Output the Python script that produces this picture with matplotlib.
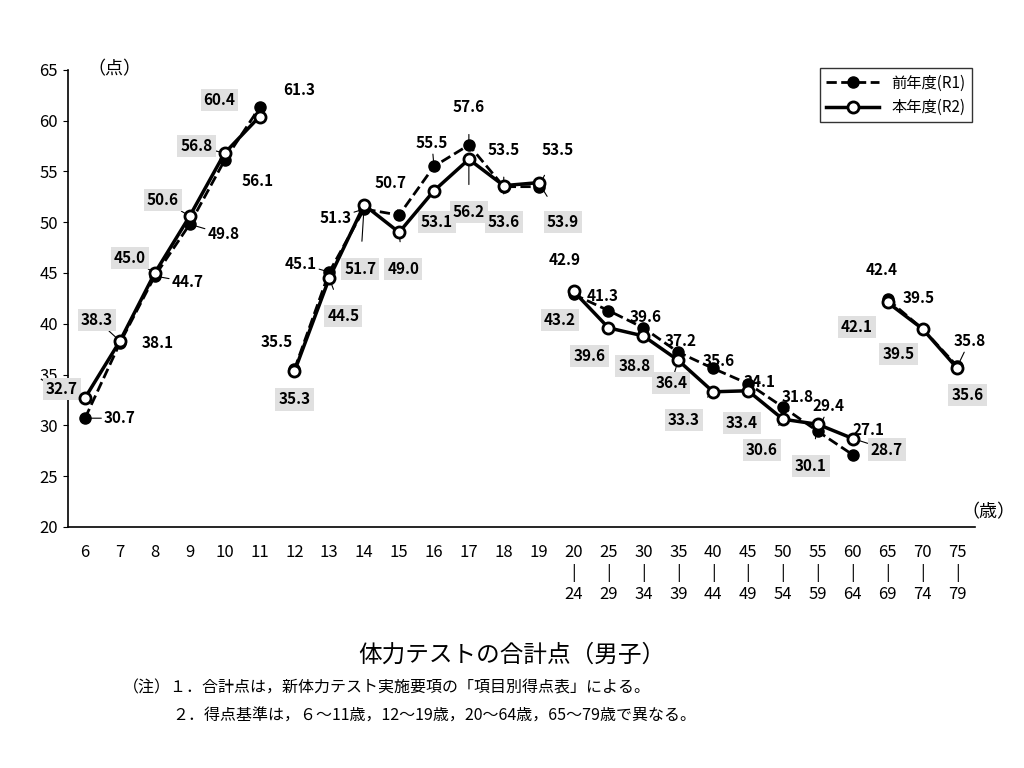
import matplotlib
matplotlib.use('Agg')
import matplotlib.pyplot as plt

plt.rcParams['font.family'] = 'Noto Sans CJK JP'

ages = ['6', '7', '8', '9', '10', '11', '12', '13', '14', '15', '16', '17', '18', '19',
        '20\n|\n24', '25\n|\n29', '30\n|\n34', '35\n|\n39', '40\n|\n44', '45\n|\n49',
        '50\n|\n54', '55\n|\n59', '60\n|\n64', '65\n|\n69', '70\n|\n74', '75\n|\n79']
r1 = [30.7, 38.1, 44.7, 49.8, 56.1, 61.3,
      35.5, 45.1, 51.3, 50.7, 55.5, 57.6, 53.5, 53.5,
      42.9, 41.3, 39.6, 37.2, 35.6, 34.1, 31.8, 29.4, 27.1,
      42.4, 39.5, 35.8]
r2 = [32.7, 38.3, 45.0, 50.6, 56.8, 60.4,
      35.3, 44.5, 51.7, 49.0, 53.1, 56.2, 53.6, 53.9,
      43.2, 39.6, 38.8, 36.4, 33.3, 33.4, 30.6, 30.1, 28.7,
      42.1, 39.5, 35.6]
groups = [(0, 6), (6, 14), (14, 23), (23, 26)]

# label offsets in pixels (dx, dy with +dy = down)
r1_off = [(35, 0), (38, 0), (33, 6), (34, 10), (33, 21), (40, -17),
          (-18, -27), (-29, -8), (-29, 9), (-9, -32), (-2, -23), (0, -38), (0, -37), (19, -37),
          (-9, -34), (-6, -15), (2, -11), (2, -11), (6, -7), (12, -2), (15, -10), (11, -25), (16, -25),
          (-6, -29), (-4, -31), (12, -25)]
r2_off = [(-23, -9), (-23, -21), (-25, -15), (-27, -16), (-28, -7), (-40, -17),
          (0, 28), (14, 38), (-4, 64), (4, 37), (3, 31), (0, 53), (0, 36), (24, 39),
          (-14, 29), (-19, 28), (-9, 30), (-7, 23), (-29, 28), (-6, 32), (-21, 31), (-7, 42), (34, 11),
          (-31, 25), (-24, 25), (10, 27)]

fig = plt.figure(figsize=(10.24, 7.68), dpi=100)
ax = fig.add_axes([0.066, 0.314, 0.886, 0.595])
x = list(range(len(ages)))

for i, (a, b) in enumerate(groups):
    ax.plot(x[a:b], r1[a:b], ls='--', color='black', lw=2, marker='o', ms=8,
            mfc='black', mec='black', label='前年度(R1)' if i == 0 else None, zorder=3)
    ax.plot(x[a:b], r2[a:b], ls='-', color='black', lw=2.5, marker='o', ms=8,
            mfc='white', mec='black', mew=2, label='本年度(R2)' if i == 0 else None, zorder=4)

for i in x:
    dx, dy = r1_off[i]
    ax.annotate(f'{r1[i]:.1f}', (i, r1[i]), xytext=(dx, -dy), textcoords='offset pixels',
                ha='center', va='center', fontsize=11, fontweight='bold',
                arrowprops=dict(arrowstyle='-', color='black', lw=0.8, shrinkA=12, shrinkB=3))
    dx, dy = r2_off[i]
    ax.annotate(f'{r2[i]:.1f}', (i, r2[i]), xytext=(dx, -dy), textcoords='offset pixels',
                ha='center', va='center', fontsize=11, fontweight='bold',
                bbox=dict(boxstyle='square,pad=0.2', fc='#e0e0e0', ec='none'),
                arrowprops=dict(arrowstyle='-', color='black', lw=0.8, shrinkA=12, shrinkB=3))

ax.set_xlim(-0.5, 25.5)
ax.set_ylim(20, 65)
ax.set_yticks(range(20, 66, 5))
ax.set_xticks(x)
ax.set_xticklabels(ages, fontsize=12, linespacing=1.3)
ax.tick_params(axis='x', length=0, pad=12)
ax.tick_params(axis='y', labelsize=12, direction='out')
ax.spines['top'].set_visible(False)
ax.spines['right'].set_visible(False)
ax.spines['left'].set_linewidth(1.2)
ax.spines['bottom'].set_linewidth(1.2)

leg = ax.legend(loc='upper right', bbox_to_anchor=(1.005, 1.02), fontsize=11, frameon=True,
                fancybox=False, edgecolor='black', handlelength=3.5)
leg.get_frame().set_linewidth(1.0)

fig.text(0.085, 0.91, '（点）', fontsize=13, ha='left', va='center')
fig.text(0.965, 0.333, '（歳）', fontsize=13, ha='center', va='center')
fig.text(0.5, 0.147, '体力テストの合計点（男子）', fontsize=17, ha='center', va='center')
fig.text(0.12, 0.104, '（注）１．合計点は，新体力テスト実施要項の「項目別得点表」による。', fontsize=11.5, ha='left', va='center')
fig.text(0.168, 0.068, '２．得点基準は，６～11歳，12～19歳，20～64歳，65～79歳で異なる。', fontsize=11.5, ha='left', va='center')

fig.savefig('out.png', dpi=100)
